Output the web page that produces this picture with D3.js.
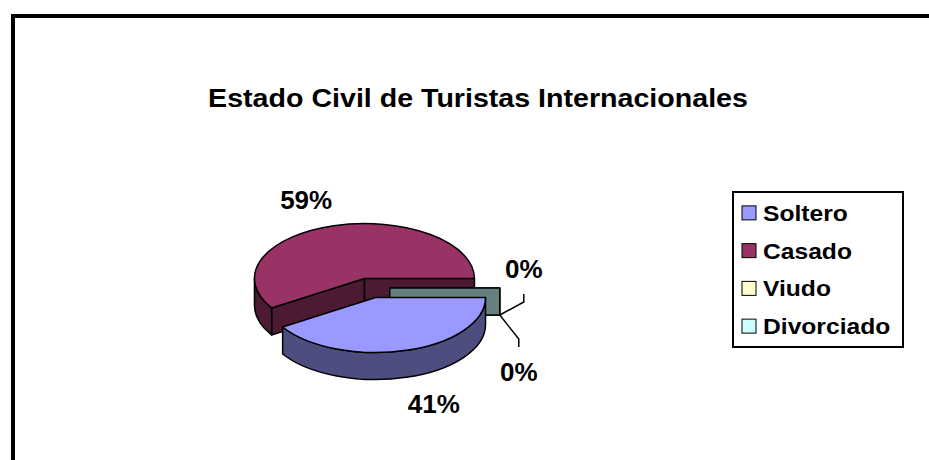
<!DOCTYPE html>
<html>
<head>
<meta charset="utf-8">
<script src="https://cdnjs.cloudflare.com/ajax/libs/d3/7.8.5/d3.min.js"></script>
<style>
body { margin: 0; background: #fff; }
text { font-family: Arial, "Liberation Sans", sans-serif; font-weight: bold; fill: #000; }
</style>
</head>
<body>
<div id="chart"></div>
<script>
// data
var categories = ['Soltero', 'Casado', 'Viudo', 'Divorciado'];
var values = [41, 59, 0, 0];
var colors = ['#9999FF', '#993366', '#FFFFCC', '#CCFFFF'];
var chartTitle = 'Estado Civil de Turistas Internacionales';

var width = 929;
var height = 460;

var svg = d3.select('#chart')
  .append('svg')
  .attr('width', width)
  .attr('height', height);

// outer frame (cropped on the right and bottom)
svg.append('rect')
  .attr('x', 13)
  .attr('y', 16)
  .attr('width', 1000)
  .attr('height', 1000)
  .attr('fill', '#fff')
  .attr('stroke', '#000')
  .attr('stroke-width', 4);

// the original text is drawn a little wide
svg.append('text')
  .attr('transform', 'translate(478,107) scale(1.1,1)')
  .attr('text-anchor', 'middle')
  .style('font-size', '26px')
  .text(chartTitle);

var data = categories.map(function(c, i) {
  return { name: c, value: values[i] };
});

var color = d3.scaleOrdinal(categories, colors);
function sideColor(c) {
  var r = d3.rgb(c);
  return d3.rgb(r.r * 0.5, r.g * 0.5, r.b * 0.5).formatHex();
}

// 3d pie geometry
var cx = 370, cy = 288, rx = 110, ry = 55, depth = 27, explode = 0.18;

var pie = d3.pie()
  .sort(null)
  .startAngle(Math.PI / 2)
  .endAngle(Math.PI / 2 + 2 * Math.PI)
  .value(function(d) { return d.value; });

var arcs = pie(data);
var total = d3.sum(values);
var pct = d3.format('.0%');

function pt(o, a, k) {
  return [o[0] + k * rx * Math.sin(a), o[1] - k * ry * Math.cos(a)];
}
function down(p) {
  return [p[0], p[1] + depth];
}

arcs.forEach(function(d) {
  d.mid = (d.startAngle + d.endAngle) / 2;
  d.o = [cx + explode * rx * Math.sin(d.mid), cy - explode * ry * Math.cos(d.mid)];
});

function topPath(d) {
  var p0 = pt(d.o, d.startAngle, 1);
  var p1 = pt(d.o, d.endAngle, 1);
  var large = d.endAngle - d.startAngle > Math.PI ? 1 : 0;
  return 'M' + d.o + 'L' + p0 + 'A' + rx + ',' + ry + ' 0 ' + large + ' 1 ' + p1 + 'Z';
}

function sidePath(d, a0, a1) {
  var p0 = pt(d.o, a0, 1);
  var p1 = pt(d.o, a1, 1);
  var large = a1 - a0 > Math.PI ? 1 : 0;
  return 'M' + p0 + 'A' + rx + ',' + ry + ' 0 ' + large + ' 1 ' + p1 +
    'L' + down(p1) + 'A' + rx + ',' + ry + ' 0 ' + large + ' 0 ' + down(p0) + 'Z';
}

function facePath(d, a) {
  var p = pt(d.o, a, 1);
  return 'M' + d.o + 'L' + p + 'L' + down(p) + 'L' + down(d.o) + 'Z';
}

// front half of the rim, per turn
function frontParts(d) {
  var parts = [];
  for (var k = -1; k <= 2; k++) {
    var lo = Math.PI / 2 + 2 * Math.PI * k;
    var hi = 3 * Math.PI / 2 + 2 * Math.PI * k;
    var a0 = Math.max(d.startAngle, lo);
    var a1 = Math.min(d.endAngle, hi);
    if (a1 - a0 > 1e-6) parts.push([a0, a1]);
  }
  return parts;
}

// back to front
var order = arcs.slice().sort(function(a, b) { return a.o[1] - b.o[1]; });

var slices = svg.selectAll('.slice')
  .data(order)
  .enter()
  .append('g')
  .attr('class', 'slice');

slices.each(function(d) {
  var g = d3.select(this);
  var dark = sideColor(color(d.data.name));
  // cut faces that turn to the viewer
  if (Math.sin(d.startAngle) < -1e-6) {
    g.append('path').attr('d', facePath(d, d.startAngle));
  }
  if (Math.sin(d.endAngle) > 1e-6) {
    g.append('path').attr('d', facePath(d, d.endAngle));
  }
  frontParts(d).forEach(function(p) {
    g.append('path').attr('d', sidePath(d, p[0], p[1]));
  });
  g.selectAll('path').attr('fill', dark);
  if (d.endAngle - d.startAngle > 1e-6) {
    g.append('path')
      .attr('d', topPath(d))
      .attr('fill', color(d.data.name));
  }
  g.selectAll('path')
    .attr('stroke', '#000')
    .attr('stroke-width', 1.5)
    .attr('stroke-linejoin', 'round');
});

// data labels
var zeroCount = 0;
arcs.forEach(function(d) {
  var lx, ly;
  if (d.value > 0) {
    lx = d.o[0] + 1.9 * rx * Math.sin(d.mid);
    ly = d.o[1] - 1.5 * ry * Math.cos(d.mid) + (Math.cos(d.mid) < 0 ? depth : 0);
  } else {
    var s = down(pt(d.o, d.mid, 1));
    var up = zeroCount % 2 === 0;
    var leader = up ? [s, [s[0] + 24, s[1] - 13], [s[0] + 24, s[1] - 21]]
                    : [s, [s[0] + 19, s[1] + 24], [s[0] + 19, s[1] + 32]];
    svg.append('path')
      .attr('d', d3.line()(leader))
      .attr('fill', 'none')
      .attr('stroke', '#000')
      .attr('stroke-width', 1.5);
    lx = leader[2][0];
    ly = leader[2][1] + (up ? -25 : 25);
    zeroCount++;
  }
  svg.append('text')
    .attr('x', lx)
    .attr('y', ly)
    .attr('dy', '0.36em')
    .attr('text-anchor', 'middle')
    .style('font-size', '26px')
    .text(pct(d.value / total));
});

// legend
var legend = svg.append('g');
legend.append('rect')
  .attr('x', 733)
  .attr('y', 192)
  .attr('width', 170)
  .attr('height', 155)
  .attr('fill', '#fff')
  .attr('stroke', '#000')
  .attr('stroke-width', 2);

var ly = d3.scaleBand()
  .domain(categories)
  .range([194, 345]);

var items = legend.selectAll('.item')
  .data(categories)
  .enter()
  .append('g')
  .attr('class', 'item')
  .attr('transform', function(c) {
    return 'translate(742,' + (ly(c) + ly.bandwidth() / 2) + ')';
  });

items.append('rect')
  .attr('x', 0)
  .attr('y', -7)
  .attr('width', 14)
  .attr('height', 14)
  .attr('fill', function(c) { return color(c); })
  .attr('stroke', '#000')
  .attr('stroke-width', 1);

items.append('text')
  .attr('transform', 'translate(21,0) scale(1.12,1)')
  .attr('dy', '0.36em')
  .style('font-size', '22px')
  .text(function(c) { return c; });
</script>
</body>
</html>
